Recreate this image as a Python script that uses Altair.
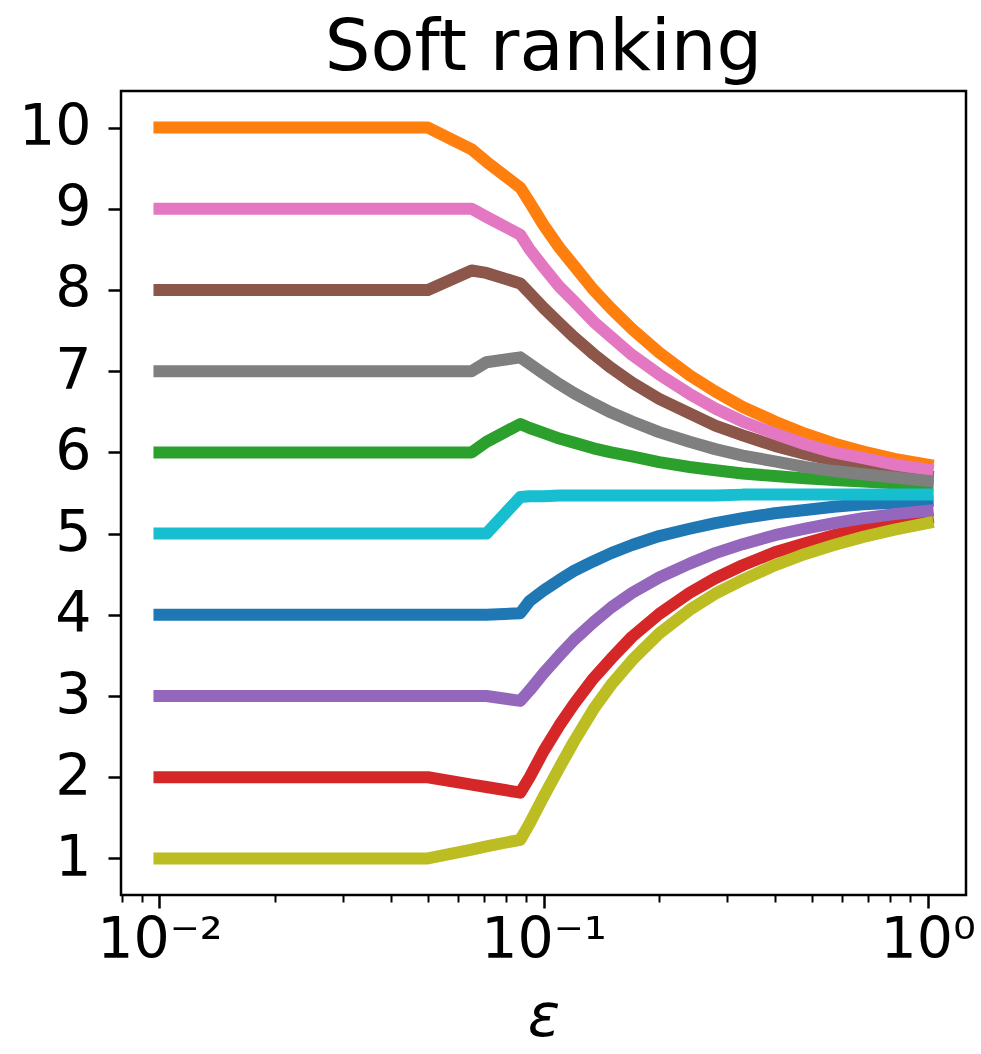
import altair as alt
import pandas as pd

eps = [0.01, 0.05, 0.065, 0.071, 0.087, 0.092, 0.1, 0.11, 0.12, 0.135, 0.15, 0.17, 0.2,
       0.24, 0.28, 0.33, 0.4, 0.48, 0.57, 0.68, 0.82, 1.0]

# series in matplotlib colour-cycle order (C0 .. C9)
blue   = [4, 4, 4.0, 4.0, 4.02, 4.17, 4.30, 4.43, 4.54, 4.66, 4.76, 4.86, 4.97,
          5.06, 5.13, 5.19, 5.25, 5.29, 5.33, 5.36, 5.38, 5.40]
orange = [10, 10, 9.73, 9.58, 9.26, 9.08, 8.80, 8.52, 8.30, 8.00, 7.77, 7.52, 7.23,
          6.95, 6.75, 6.56, 6.38, 6.23, 6.11, 6.01, 5.92, 5.85]
green  = [6, 6, 6.0, 6.13, 6.35, 6.30, 6.24, 6.17, 6.12, 6.05, 6.00, 5.95, 5.88,
          5.82, 5.78, 5.74, 5.71, 5.68, 5.66, 5.64, 5.62, 5.60]
red    = [2, 2, 1.91, 1.88, 1.81, 2.00, 2.32, 2.64, 2.90, 3.22, 3.46, 3.73, 4.01,
          4.27, 4.45, 4.61, 4.77, 4.88, 4.98, 5.06, 5.13, 5.19]
purple = [3, 3, 3.0, 3.0, 2.94, 3.07, 3.28, 3.50, 3.69, 3.91, 4.09, 4.27, 4.46,
          4.63, 4.76, 4.87, 4.98, 5.06, 5.13, 5.19, 5.24, 5.28]
brown  = [8, 8, 8.24, 8.21, 8.08, 7.96, 7.78, 7.59, 7.42, 7.21, 7.04, 6.86, 6.66,
          6.48, 6.33, 6.21, 6.08, 5.98, 5.90, 5.83, 5.77, 5.71]
pink   = [9, 9, 9.0, 8.90, 8.68, 8.50, 8.28, 8.04, 7.86, 7.61, 7.42, 7.20, 6.96,
          6.72, 6.54, 6.38, 6.23, 6.10, 6.00, 5.93, 5.85, 5.79]
gray   = [7, 7, 7.0, 7.11, 7.17, 7.09, 6.97, 6.84, 6.73, 6.60, 6.49, 6.38, 6.25,
          6.13, 6.04, 5.96, 5.89, 5.82, 5.77, 5.73, 5.69, 5.65]
olive  = [1, 1, 1.11, 1.15, 1.23, 1.43, 1.76, 2.12, 2.44, 2.84, 3.14, 3.44, 3.77,
          4.06, 4.26, 4.43, 4.61, 4.75, 4.86, 4.96, 5.05, 5.13]
cyan   = [5, 5, 5.0, 5.0, 5.45, 5.46, 5.46, 5.47, 5.47, 5.47, 5.47, 5.47, 5.47,
          5.47, 5.47, 5.48, 5.48, 5.48, 5.48, 5.48, 5.48, 5.48]

series = [blue, orange, green, red, purple, brown, pink, gray, olive, cyan]
colors = ["#1f77b4", "#ff7f0e", "#2ca02c", "#d62728", "#9467bd",
          "#8c564b", "#e377c2", "#7f7f7f", "#bcbd22", "#17becf"]

major_x = [0.01, 0.1, 1.0]
minor_x = [0.008, 0.009, 0.02, 0.03, 0.04, 0.05, 0.06, 0.07, 0.08, 0.09,
           0.2, 0.3, 0.4, 0.5, 0.6, 0.7, 0.8, 0.9]
y_ticks = [1, 2, 3, 4, 5, 6, 7, 8, 9, 10]

rows = []
for k, vals in enumerate(series):
    for e, v in zip(eps, vals):
        rows.append({"eps": e, "rank": v, "k": k})
df = pd.DataFrame(rows)

FONT = "DejaVu Sans"
xscale = alt.Scale(type="log", domain=[0.00794, 1.2589], nice=False)
yscale = alt.Scale(domain=[0.55, 10.45], nice=False, zero=False)

x_major = alt.Axis(values=major_x, orient="bottom", tickSize=13, tickWidth=2.5,
                   tickColor="black", labelFontSize=57, labelFont=FONT,
                   labelColor="black", labelPadding=4, labelFlush=False,
                   labelExpr="datum.value < 0.05 ? '10⁻²' : (datum.value < 0.5 ? '10⁻¹' : '10⁰')",
                   title="ε", titleFont=FONT, titleFontSize=60, titleFontStyle="italic",
                   titleFontWeight="normal", titleColor="black", titlePadding=20,
                   domain=False, grid=False)
x_minor = alt.Axis(values=minor_x, orient="bottom", tickSize=7, tickWidth=2,
                   tickColor="black", labels=False, title=None, domain=False, grid=False)
y_axis = alt.Axis(values=y_ticks, orient="left", tickSize=13, tickWidth=2.5,
                  tickColor="black", labelFontSize=57, labelFont=FONT,
                  labelColor="black", labelPadding=17, title=None,
                  domain=False, grid=False)

minor = alt.Chart(df).transform_filter(alt.datum.k == 0).mark_line(opacity=0).encode(
    x=alt.X("eps:Q", scale=xscale, axis=x_minor),
    y=alt.Y("rank:Q", scale=yscale, axis=y_axis))

layers = []
for k, c in enumerate(colors):
    base = alt.Chart(df).transform_filter(alt.datum.k == k).mark_line(
        color=c, strokeWidth=12, strokeCap="square", strokeJoin="round")
    xax = x_major if k == 0 else None
    enc = base.encode(x=alt.X("eps:Q", scale=xscale, axis=xax),
                      y=alt.Y("rank:Q", scale=yscale, axis=None))
    layers.append(enc)

chart = alt.layer(minor, *layers).resolve_axis(x="independent", y="independent").properties(
    width=845, height=804,
    padding={"left": 121, "top": 91, "right": 15, "bottom": 159},
    autosize=alt.AutoSizeParams(type="none"),
    background="white",
    title=alt.TitleParams("Soft ranking", font=FONT, fontSize=72, fontWeight="normal",
                          color="black", anchor="middle", offset=6),
).configure_view(stroke="black", strokeWidth=2.5)

chart.save("out.html", embed_options={"renderer": "svg", "actions": False})
